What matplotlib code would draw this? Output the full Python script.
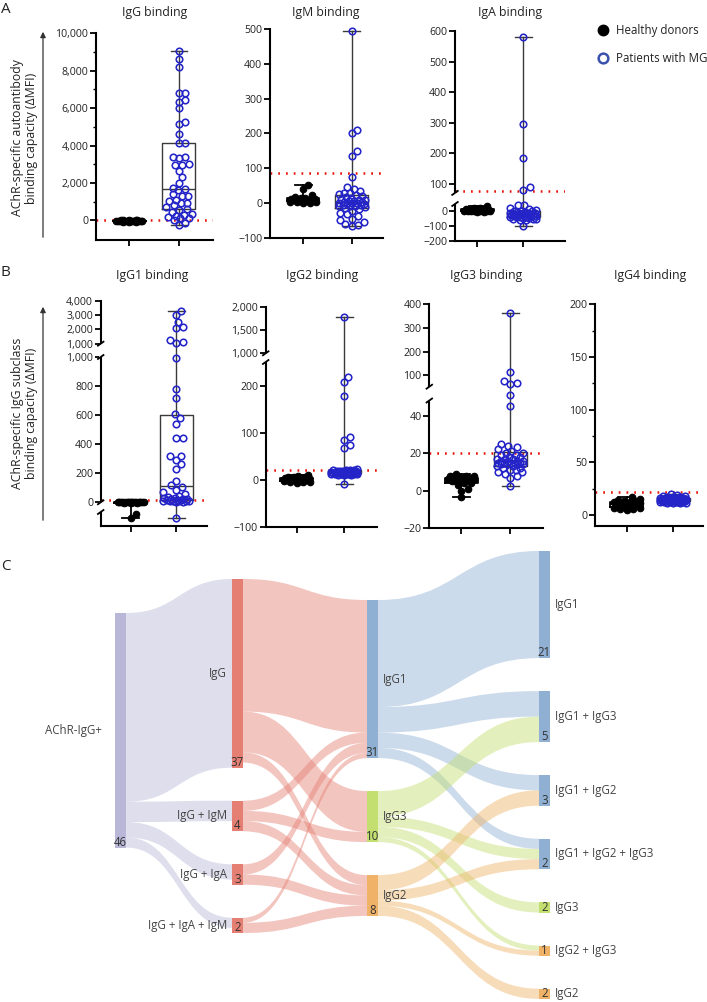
import numpy as np
import matplotlib.pyplot as plt
from matplotlib.path import Path
from matplotlib.patches import PathPatch, Rectangle
from matplotlib.ticker import FixedLocator, FixedFormatter, NullFormatter

plt.rcParams['font.family'] = ['Open Sans', 'DejaVu Sans']

W, H = 707, 1002

# --- Panel A data (ΔMFI) ---
hd_igg = [-80, -70, -65, -60, -55, -50, -45, -40, -35, -30, -30, -25, -20, -15, -10, -5, 0, 5, 10, -50]
mg_igg = [9050, 8600, 8200, 6800, 6800, 6450, 6350, 6000, 5250, 5150, 4600, 4150, 4150,
          3400, 3400, 3350, 3000, 2950, 2950, 2650, 2300, 2000, 1750, 1650,
          1600, 1400, 1300, 1300, 1100, 1050, 950, 900, 800, 700, 600, 550, 450, 350, 300,
          250, 200, 150, 100, 0, -150, -250]
hd_igm = [52, 40, 22, 18, 15, 14, 12, 12, 10, 10, 8, 8, 6, 5, 5, 4, 3, 2, 1, 0]
mg_igm = [495, 210, 200, 148, 135, 76, 47, 40, 35, 30, 28, 25, 22, 20, 18, 15, 12, 10, 8, 6,
          5, 4, 2, 1, 0, -1, -2, -3, -5, -6, -8, -10, -10, -12, -15, -18, -22, -28, -32, -38,
          -45, -50, -55, -60, -63, -65]
hd_iga = [30, 20, 15, 12, 10, 8, 6, 5, 4, 3, 2, 1, 0, -1, -2, -3, -4, -5, -6, -8]
mg_iga = [580, 297, 185, 88, 81, 40, 35, 20, 10, 5, 0, -2, -5, -8, -10, -12, -14, -15, -16, -18,
          -20, -20, -22, -24, -25, -26, -28, -30, -30, -32, -34, -35, -36, -38, -40, -42, -44,
          -45, -48, -50, -52, -55, -58, -60, -65, -105]

# --- Panel B data (ΔMFI) ---
hd_igg1 = [5, 4, 3, 2, 2, 1, 0, 0, -1, -2, -3, 3, 1, 0, -1, 2, 4, -2, -70, -100]
mg_igg1 = [3300, 3000, 2550, 2200, 2100, 1250, 1150, 1050, 995, 783, 715, 611, 581, 542, 444,
           440, 318, 316, 291, 261, 227, 149, 120, 105, 85, 70, 57, 45, 39, 32, 28, 25, 22, 20,
           18, 16, 14, 12, 11, 10, 9, 8, 6, 5, 2, -100]
hd_igg2 = [10, 8, 6, 5, 5, 4, 3, 3, 2, 2, 1, 0, 0, -1, -2, -3, -4, -5, -6, -7]
mg_igg2 = [1780, 218, 207, 177, 90, 84, 74, 68, 22, 21, 21, 20, 20, 19, 19, 19, 18, 18, 18, 17,
           17, 17, 17, 16, 16, 16, 16, 15, 15, 15, 15, 14, 14, 14, 13, 13, 13, 12, 12, 12, 11,
           11, 10, 10, 9, -10]
hd_igg3 = [9, 8, 8, 8, 7, 7, 7, 7, 6, 6, 6, 6, 5, 5, 5, 4, 4, 3, 1, 0, -3.5]
mg_igg3 = [365, 113, 76, 66, 63, 49.5, 45, 25, 24, 23, 22, 21, 20, 20, 19, 19, 18, 18, 17, 17,
           17, 16, 16, 16, 16, 15, 15, 15, 15, 15, 14, 14, 14, 14, 13, 13, 12, 12, 11, 11, 10,
           10, 9, 8, 7, 2.5]
hd_igg4 = [17, 15, 14, 13, 13, 12, 12, 11, 11, 10, 10, 9, 9, 8, 8, 7, 7, 6, 6, 5]
mg_igg4 = [20, 19, 18, 18, 17, 17, 17, 16, 16, 16, 16, 16, 16, 15, 15, 15, 15, 15, 15, 15, 15,
           14, 14, 14, 14, 14, 14, 14, 14, 13, 13, 13, 13, 13, 13, 13, 12, 12, 12, 12, 12, 12,
           11, 11, 11, 11]

cutoff_a = [30, 85, 75]
cutoff_b = [18, 21, 20, 21.5]
titles_a = ["IgG binding", "IgM binding", "IgA binding"]
titles_b = ["IgG1 binding", "IgG2 binding", "IgG3 binding", "IgG4 binding"]

# --- Panel C data (patients) ---
sk_names = ["AChR-IgG+", "IgG", "IgG + IgM", "IgG + IgA", "IgG + IgA + IgM",
            "IgG1", "IgG3", "IgG2",
            "IgG1", "IgG1 + IgG3", "IgG1 + IgG2", "IgG1 + IgG2 + IgG3", "IgG3", "IgG2 + IgG3", "IgG2"]
sk_level = [0, 1, 1, 1, 1, 2, 2, 2, 3, 3, 3, 3, 3, 3, 3]
sk_counts = [46, 37, 4, 3, 2, 31, 10, 8, 21, 5, 3, 2, 2, 1, 2]
sk_links = [(0, 1, 37), (0, 2, 4), (0, 3, 3), (0, 4, 2),
            (1, 5, 26), (1, 6, 8), (1, 7, 2),
            (2, 5, 2), (2, 6, 2), (2, 7, 2),
            (3, 5, 2), (3, 7, 2),
            (4, 5, 1), (4, 7, 2),
            (5, 8, 21), (5, 9, 5), (5, 10, 3), (5, 11, 2),
            (6, 9, 5), (6, 11, 2), (6, 12, 2), (6, 13, 1),
            (7, 10, 3), (7, 11, 2), (7, 13, 1), (7, 14, 2)]

# --- styles ---
TXT = '#222222'
MG_BLUE = '#2424c8'
RED = '#e8140c'
LAV, SAL, BLU, GRN, ORA = '#b8b7d7', '#e57f73', '#8fb0d3', '#c2df70', '#efb266'
sk_colors = [LAV, SAL, SAL, SAL, SAL, BLU, GRN, ORA, BLU, BLU, BLU, BLU, GRN, ORA, ORA]

fig = plt.figure(figsize=(W / 100, H / 100), dpi=100)
ov = fig.add_axes([0, 0, 1, 1], zorder=10)
ov.set_xlim(0, W)
ov.set_ylim(H, 0)
ov.axis('off')
ov.patch.set_visible(False)


def fmt(v):
    s = f'{abs(v):,.0f}'
    return '\u2212' + s if v < 0 else s


def swarm(ypx, d=6.5, wmax=13):
    ypx = np.asarray(ypx, float)
    xs = np.zeros(len(ypx))
    steps = np.arange(0.5, wmax + 0.01, 0.5)
    cand = np.concatenate([[0.0], np.column_stack([steps, -steps]).ravel()])
    px_, py_ = [], []
    for i in np.argsort(ypx):
        best = 0.0
        if px_:
            ax_, ay_ = np.array(px_), np.array(py_)
            bestd = -1
            for c in cand:
                dm = np.min(np.hypot(ax_ - c, ay_ - ypx[i]))
                if dm >= d:
                    best = c
                    break
                if dm > bestd:
                    bestd, best = dm, c
        xs[i] = best
        px_.append(best)
        py_.append(ypx[i])
    return xs


def panel(hd, mg, cut, xpx, tpx, ydata, ypx, majors, minors=(), gaps=(), labels=None):
    x0, x1 = xpx
    t1, t2 = tpx
    dbp = np.array(ydata, float)
    pbp = np.array(ypx, float)
    ax = fig.add_axes([x0 / W, 1 - pbp[0] / H, (x1 - x0) / W, (pbp[0] - pbp[-1]) / H])
    ax.set_yscale('function', functions=(lambda v: np.interp(v, dbp, -pbp),
                                         lambda u: np.interp(u, -pbp, dbp)))
    ppu = t2 - t1
    ax.set_xlim(1 - (t1 - x0) / ppu, 2 + (x1 - t2) / ppu)
    ax.set_ylim(dbp[0], dbp[-1])
    ax.patch.set_visible(False)
    for s in ('top', 'right'):
        ax.spines[s].set_visible(False)
    for s in ('left', 'bottom'):
        ax.spines[s].set_linewidth(1.5)
    ax.tick_params(direction='out', length=4, width=1.3, labelsize=7.6, labelcolor=TXT, pad=1.5)
    ax.tick_params(which='minor', direction='out', length=2.5, width=1.0)
    ax.set_xticks([1, 2])
    ax.set_xticklabels([])
    ax.yaxis.set_major_locator(FixedLocator(majors))
    ax.yaxis.set_major_formatter(FixedFormatter(labels or [fmt(v) for v in majors]))
    ax.yaxis.set_minor_locator(FixedLocator(list(minors)))
    ax.yaxis.set_minor_formatter(NullFormatter())

    ax.axhline(cut, color=RED, lw=1.8, ls=(0, (0.7, 2.4)), zorder=1)
    bp = ax.boxplot([hd, mg], positions=[1, 2], widths=33 / ppu, capwidths=17 / ppu,
                    whis=(0, 100), showfliers=False, manage_ticks=False)
    for i, (col, lw) in enumerate([('black', 1.3), ('#3a3a3a', 1.0)]):
        for el in [bp['boxes'][i], bp['medians'][i]] + bp['whiskers'][2 * i:2 * i + 2] + bp['caps'][2 * i:2 * i + 2]:
            el.set_color(col)
            el.set_linewidth(lw)
            el.set_zorder(2)

    for pos, vals, kw in [(1, hd, dict(mfc='black', mec='black', mew=0.8)),
                          (2, mg, dict(mfc='none', mec=MG_BLUE, mew=1.15))]:
        ypix = ax.transData.transform(np.column_stack([np.full(len(vals), pos), vals]))[:, 1]
        off = swarm(ypix)
        ax.plot(pos + off / ppu, vals, 'o', ms=4.7, ls='none', zorder=3, clip_on=False, **kw)

    # axis breaks
    for lo, hi in gaps:
        ylo = H - ax.transData.transform((1, lo))[1]
        yhi = H - ax.transData.transform((1, hi))[1]
        ov.add_patch(Rectangle((x0 - 2, yhi), 4, ylo - yhi, color='white', lw=0))
        for yy in (ylo, yhi):
            ov.plot([x0 - 3.5, x0 + 3.5], [yy + 2.5, yy - 2.5], color='black', lw=1.3,
                    solid_capstyle='butt')
    return ax


# --- Panel A ---
panel(hd_igg, mg_igg, cutoff_a[0], (96, 213), (129, 179), [-1053, 10000], [240, 33.3],
      list(range(0, 10001, 2000)), minors=list(range(1000, 10000, 2000)))
panel(hd_igm, mg_igm, cutoff_a[1], (270, 383), (303, 352), [-100, 500], [237.8, 29],
      list(range(-100, 501, 100)))
panel(hd_iga, mg_iga, cutoff_a[2], (455, 565), (477, 523), [-200, 45, 70, 600],
      [240.7, 204, 192.9, 31], list(range(-200, 1, 100)) + list(range(100, 601, 100)),
      gaps=[(45, 70)])

# --- Panel B ---
panel(hd_igg1, mg_igg1, cutoff_b[0], (100.7, 206.7), (130.7, 176),
      [-150, -60, 0, 1000, 1000.001, 4000], [526, 512, 502.3, 357, 343.7, 301],
      [0, 200, 400, 600, 800, 1000, 1000.001, 2000, 3000, 4000],
      labels=['0', '200', '400', '600', '800', '1,000', '1,000', '2,000', '3,000', '4,000'],
      gaps=[(-60, 0), (1000, 1000.001)])
panel(hd_igg2, mg_igg2, cutoff_b[1], (265.7, 376.7), (296.7, 344.3),
      [-100, 250, 1000, 2000], [526.7, 362, 353.3, 306.7],
      [-100, 0, 100, 200, 1000, 1500, 2000], gaps=[(250, 1000)])
panel(hd_igg3, mg_igg3, cutoff_b[2], (429.3, 543), (461, 510),
      [-20, 48, 52, 400], [528.3, 400.5, 386.7, 304.3],
      [-20, 0, 20, 40, 100, 200, 300, 400], gaps=[(48, 52)])
panel(hd_igg4, mg_igg4, cutoff_b[3], (595, 703), (626.7, 673.3),
      [-10, 200], [525.5, 304.3], [0, 50, 100, 150, 200], minors=[25, 75, 125, 175])

# --- titles, letters, axis labels, legend ---
for t, x in zip(titles_a, [155, 326, 510]):
    ov.text(x, 12, t, ha='center', va='center', fontsize=8.8, color=TXT)
for t, x in zip(titles_b, [152, 322, 486, 650]):
    ov.text(x, 275, t, ha='center', va='center', fontsize=8.8, color=TXT)
for t, y in [('A', 9), ('B', 272), ('C', 567)]:
    ov.text(1, y, t, ha='left', va='center', fontsize=11, color=TXT)

ov.text(25, 138, 'AChR-specific autoantibody\nbinding capacity (\u0394MFI)', rotation=90,
        ha='center', va='center', fontsize=8.8, color=TXT, linespacing=1.1)
ov.text(25, 413, 'AChR-specific IgG subclass\nbinding capacity (\u0394MFI)', rotation=90,
        ha='center', va='center', fontsize=8.8, color=TXT, linespacing=1.1)
for ytop, ybot in [(29, 240), (304, 523)]:
    ov.annotate('', xy=(43, ytop), xytext=(43, ybot),
                arrowprops=dict(arrowstyle='-|>', lw=0.9, color='#333333', mutation_scale=8))

ov.plot(603, 30, 'o', ms=7.5, color='black')
ov.plot(603, 58, 'o', ms=7, mfc='none', mec='#3a52ad', mew=1.8)
ov.text(616, 30, 'Healthy donors', va='center', fontsize=8.3, color=TXT)
ov.text(616, 58, 'Patients with MG', va='center', fontsize=8.3, color=TXT)

# --- Panel C: Sankey ---
col_x = [115, 232, 367, 539]
col_top = [613, 579, 600, 551]
NODE_W, PAD, SCALE = 11, 33, 5.1
label_side = [(-13, 'right'), (-5, 'right'), (NODE_W + 5, 'left'), (NODE_W + 5, 'left')]

n = len(sk_names)
inflow = np.zeros(n)
outflow = np.zeros(n)
for s, t, v in sk_links:
    outflow[s] += v
    inflow[t] += v
size = np.maximum(inflow, outflow)

top = np.zeros(n)
for c in range(4):
    y = col_top[c]
    for i in range(n):
        if sk_level[i] == c:
            top[i] = y
            y += size[i] * SCALE + PAD
bottom = top + size * SCALE
center = (top + bottom) / 2

y_out = {}
y_in = {}
for i in range(n):
    outs = sorted([k for k, l in enumerate(sk_links) if l[0] == i], key=lambda k: center[sk_links[k][1]])
    y = top[i]
    for k in outs:
        y_out[k] = y
        y += sk_links[k][2] * SCALE
    ins = sorted([k for k, l in enumerate(sk_links) if l[1] == i], key=lambda k: center[sk_links[k][0]])
    y = top[i]
    for k in ins:
        y_in[k] = y
        y += sk_links[k][2] * SCALE

for k, (s, t, v) in enumerate(sk_links):
    xa = col_x[sk_level[s]] + NODE_W
    xb = col_x[sk_level[t]]
    xm = (xa + xb) / 2
    a0, a1, h = y_out[k], y_in[k], v * SCALE
    verts = [(xa, a0), (xm, a0), (xm, a1), (xb, a1), (xb, a1 + h), (xm, a1 + h),
             (xm, a0 + h), (xa, a0 + h), (xa, a0)]
    codes = [Path.MOVETO, Path.CURVE4, Path.CURVE4, Path.CURVE4, Path.LINETO,
             Path.CURVE4, Path.CURVE4, Path.CURVE4, Path.CLOSEPOLY]
    ov.add_patch(PathPatch(Path(verts, codes), facecolor=sk_colors[s], alpha=0.45, lw=0))

for i in range(n):
    c = sk_level[i]
    ov.add_patch(Rectangle((col_x[c], top[i]), NODE_W, size[i] * SCALE,
                           facecolor=sk_colors[i], lw=0))
    dx, ha = label_side[c]
    ov.text(col_x[c] + dx, center[i], sk_names[i], ha=ha, va='center', fontsize=8.3, color='#444444')
    ov.text(col_x[c] + NODE_W / 2, bottom[i] + 1, str(sk_counts[i]), ha='center', va='bottom',
            fontsize=8.3, color='#333333')

fig.savefig('out.png', dpi=100)
